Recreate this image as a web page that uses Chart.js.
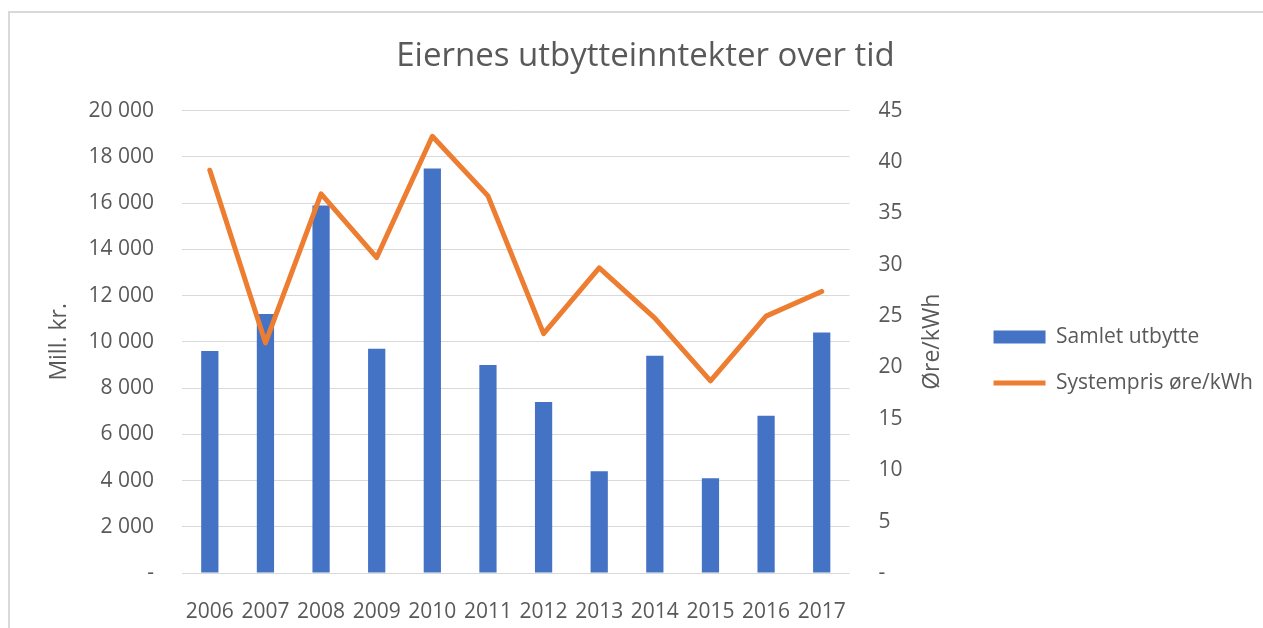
<!DOCTYPE html>
<html>
<head>
<meta charset="utf-8">
<script src="https://cdn.jsdelivr.net/npm/chart.js@4"></script>
<style>
  body { margin: 0; background: #fff; }
  .wrap { position: absolute; left: 0; top: 0; width: 1263px; height: 628px; }
  .frame { position: absolute; left: 8px; top: 11px; width: 1300px; height: 700px;
           border-left: 2px solid #d9d9d9; border-top: 2px solid #d9d9d9; pointer-events: none; }
</style>
</head>
<body>
<div class="wrap"><canvas id="myChart" width="1263" height="628"></canvas></div>
<div class="frame"></div>
<script>
const years = ['2006','2007','2008','2009','2010','2011','2012','2013','2014','2015','2016','2017']
const utbytte = [9600, 11200, 15900, 9700, 17500, 9000, 7400, 4400, 9400, 4100, 6800, 10400]
const systempris = [39.2, 22.4, 36.9, 30.7, 42.5, 36.7, 23.3, 29.7, 24.8, 18.7, 25.0, 27.4]

const grey = '#595959'
const font = 'Open Sans'
Chart.defaults.font.family = font
Chart.defaults.color = grey

// right axis title reads bottom-to-top like in excel
const rightTitle = {
    id: 'rightTitle',
    afterDraw(chart){
        const c = chart.ctx
        const a = chart.chartArea
        c.save()
        c.translate(932, (a.top + a.bottom) / 2)
        c.rotate(-Math.PI / 2)
        c.font = '23px "' + font + '"'
        c.fillStyle = grey
        c.textAlign = 'center'
        c.textBaseline = 'middle'
        c.fillText('Øre/kWh', 0, 0)
        c.restore()
    }
}

function tall(v){
    if(v === 0) return '-'
    return v.toString().replace(/\B(?=(\d{3})+(?!\d))/g, ' ')
}

const ctx = document.getElementById('myChart').getContext('2d')
const myChart = new Chart(ctx, {
    type: 'bar',
    data: {
        labels: years,
        datasets: [{
            label: 'Samlet utbytte',
            data: utbytte,
            backgroundColor: '#4472c4',
            borderWidth: 0,
            barPercentage: 0.31,
            categoryPercentage: 1,
            pointStyle: 'rect',
            yAxisID: 'y',
            order: 1
        }, {
            type: 'line',
            label: 'Systempris øre/kWh',
            data: systempris,
            borderColor: '#ed7d31',
            backgroundColor: '#ed7d31',
            borderWidth: 5,
            borderCapStyle: 'round',
            borderJoinStyle: 'round',
            pointRadius: 0,
            pointStyle: 'line',
            tension: 0,
            yAxisID: 'y1',
            order: 0
        }]
    },
    options: {
        responsive: false,
        animation: false,
        layout: { padding: { left: 28, right: 0, top: 0, bottom: 0 } },
        plugins: {
            title: {
                display: true,
                text: 'Eiernes utbytteinntekter over tid',
                color: grey,
                font: { size: 33, weight: 'normal' },
                padding: { top: 37, bottom: 34 }
            },
            legend: {
                position: 'right',
                maxWidth: 296,
                // empty title only pushes the items down a bit
                title: { display: true, text: ' ', font: { size: 20 }, padding: { top: 68, bottom: 0 } },
                labels: {
                    usePointStyle: true,
                    pointStyleWidth: 52,
                    boxHeight: 13,
                    padding: 25,
                    color: grey,
                    font: { size: 21 },
                    sort: (a, b) => a.datasetIndex - b.datasetIndex
                }
            },
            tooltip: { enabled: false }
        },
        scales: {
            x: {
                grid: { display: false },
                border: { display: false },
                ticks: { padding: 18, font: { size: 21 }, color: grey, maxRotation: 0 },
                afterFit(s){ s.height = 55 }
            },
            y: {
                position: 'left',
                min: 0, max: 20000,
                ticks: { stepSize: 2000, padding: 28, font: { size: 21 }, color: grey, callback: v => tall(v) },
                grid: { color: '#d9d9d9', lineWidth: 1, drawTicks: false },
                border: { display: false },
                title: { display: true, text: 'Mill. kr.', color: grey, font: { size: 23 }, padding: { top: 18, bottom: 0 } },
                afterFit(s){ s.width = 154 }
            },
            y1: {
                position: 'right',
                min: 0, max: 45,
                ticks: { stepSize: 5, padding: 29, font: { size: 21 }, color: grey, callback: v => v === 0 ? '-' : v },
                grid: { display: false, drawTicks: false },
                border: { display: false },
                afterFit(s){ s.width = 119 }
            }
        }
    },
    plugins: [rightTitle]
})
</script>
</body>
</html>
